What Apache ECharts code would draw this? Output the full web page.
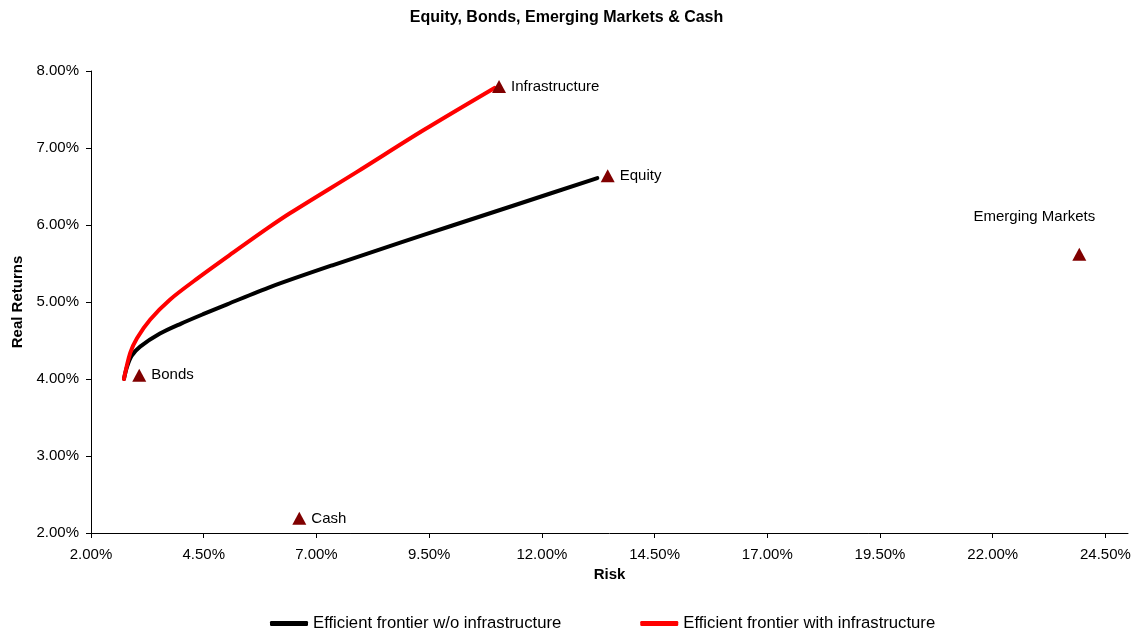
<!DOCTYPE html>
<html>
<head>
<meta charset="utf-8">
<script src="https://cdn.jsdelivr.net/npm/echarts@6/dist/echarts.min.js"></script>
<style>
html,body{margin:0;padding:0;background:#fff;}
#chart{width:1133px;height:632px;}
</style>
</head>
<body>
<div id="chart"></div>
<script>
// ---- Data (risk %, real return %) ----
const titleText = 'Equity, Bonds, Emerging Markets & Cash';
const xAxisName = 'Risk';
const yAxisName = 'Real Returns';

const frontierNoInfraName = 'Efficient frontier w/o infrastructure';
const frontierNoInfraRisk   = [2.73, 2.80, 2.90, 3.09, 3.53, 4.00, 4.50, 5.02, 6.00, 7.37, 8.86, 10.00, 11.36, 13.23];
const frontierNoInfraReturn = [4.00, 4.16, 4.30, 4.42, 4.59, 4.72, 4.845, 4.97, 5.20, 5.48, 5.77, 5.99, 6.25, 6.61];

const frontierInfraName = 'Efficient frontier with infrastructure';
const frontierInfraRisk   = [2.73, 2.87, 3.02, 3.31, 3.75, 4.37, 5.15, 5.91, 6.42, 7.90, 9.37, 10.95];
const frontierInfraReturn = [4.00, 4.34, 4.53, 4.77, 5.03, 5.31, 5.64, 5.955, 6.155, 6.69, 7.23, 7.78];

const assetNames  = ['Infrastructure', 'Equity', 'Emerging Markets', 'Bonds', 'Cash'];
const assetRisk   = [11.05, 13.46, 23.92, 3.07, 6.62];
const assetReturn = [7.80, 6.64, 5.62, 4.05, 2.19];

const xTicks = [2.0, 4.5, 7.0, 9.5, 12.0, 14.5, 17.0, 19.5, 22.0, 24.5];
const yTicks = [2, 3, 4, 5, 6, 7, 8];

// ---- Presentation ----
const FONT = '"Liberation Sans", Arial, sans-serif';
const labelStyles = {
  'Emerging Markets': { position: 'top', offset: [-45, -18] }
};
const pct = v => Number(v).toFixed(2) + '%';

const zip = (xs, ys) => xs.map((x, i) => [x, ys[i]]);

const assetData = assetNames.map((n, i) => {
  const ls = labelStyles[n] || { position: 'right', distance: 5 };
  return { name: n, value: [assetRisk[i], assetReturn[i]], label: Object.assign({ show: true, formatter: '{b}' }, ls) };
});

const chart = echarts.init(document.getElementById('chart'), null, { renderer: 'canvas' });
chart.setOption({
  backgroundColor: '#fff',
  animation: false,
  textStyle: { fontFamily: FONT, color: '#000' },
  title: {
    text: titleText, left: 'center', top: 10, padding: 0,
    textStyle: { fontFamily: FONT, fontSize: 16, fontWeight: 'bold', color: '#000' }
  },
  grid: { left: 91, right: 5, top: 71, bottom: 99, containLabel: false, outerBoundsMode: 'none' },
  legend: {
    left: 265, top: 610,
    icon: 'roundRect', itemWidth: 38, itemHeight: 5, itemGap: 79,
    textStyle: { fontFamily: FONT, fontSize: 16.7, color: '#000', padding: [0, 0, 0, 0] },
    data: [frontierNoInfraName, frontierInfraName]
  },
  xAxis: {
    type: 'value', min: 2, max: 25, interval: 2.5,
    name: xAxisName, nameLocation: 'middle', nameGap: 34,
    nameTextStyle: { fontFamily: FONT, fontSize: 15, fontWeight: 'bold', color: '#000' },
    axisLine: { show: true, onZero: false, lineStyle: { color: '#000', width: 1 } },
    axisTick: { show: true, length: 5, lineStyle: { color: '#000' }, customValues: xTicks },
    axisLabel: { fontFamily: FONT, fontSize: 15, color: '#000', margin: 14, formatter: pct, customValues: xTicks },
    splitLine: { show: false }
  },
  yAxis: {
    type: 'value', min: 2, max: 8, interval: 1,
    name: yAxisName, nameLocation: 'middle', nameGap: 61, nameRotate: 90,
    nameTextStyle: { fontFamily: FONT, fontSize: 15, fontWeight: 'bold', color: '#000' },
    axisLine: { show: true, onZero: false, lineStyle: { color: '#000', width: 1 } },
    axisTick: { show: true, length: 5, lineStyle: { color: '#000' }, customValues: yTicks },
    axisLabel: { fontFamily: FONT, fontSize: 15, color: '#000', margin: 12, formatter: pct, customValues: yTicks },
    splitLine: { show: false }
  },
  series: [
    {
      name: frontierNoInfraName, type: 'line',
      data: zip(frontierNoInfraRisk, frontierNoInfraReturn),
      showSymbol: false, symbol: 'none', smooth: 0.3,
      lineStyle: { color: '#000', width: 4, cap: 'round', join: 'round' },
      itemStyle: { color: '#000' }, z: 2
    },
    {
      name: frontierInfraName, type: 'line',
      data: zip(frontierInfraRisk, frontierInfraReturn),
      showSymbol: false, symbol: 'none', smooth: 0.3,
      lineStyle: { color: '#ff0000', width: 4, cap: 'round', join: 'round' },
      itemStyle: { color: '#ff0000' }, z: 3
    },
    {
      name: 'Assets', type: 'scatter',
      data: assetData,
      symbol: 'triangle', symbolSize: [14, 13],
      itemStyle: { color: '#800000', opacity: 1 },
      label: { fontFamily: FONT, fontSize: 15, color: '#000' },
      z: 5
    }
  ]
});
</script>
</body>
</html>
